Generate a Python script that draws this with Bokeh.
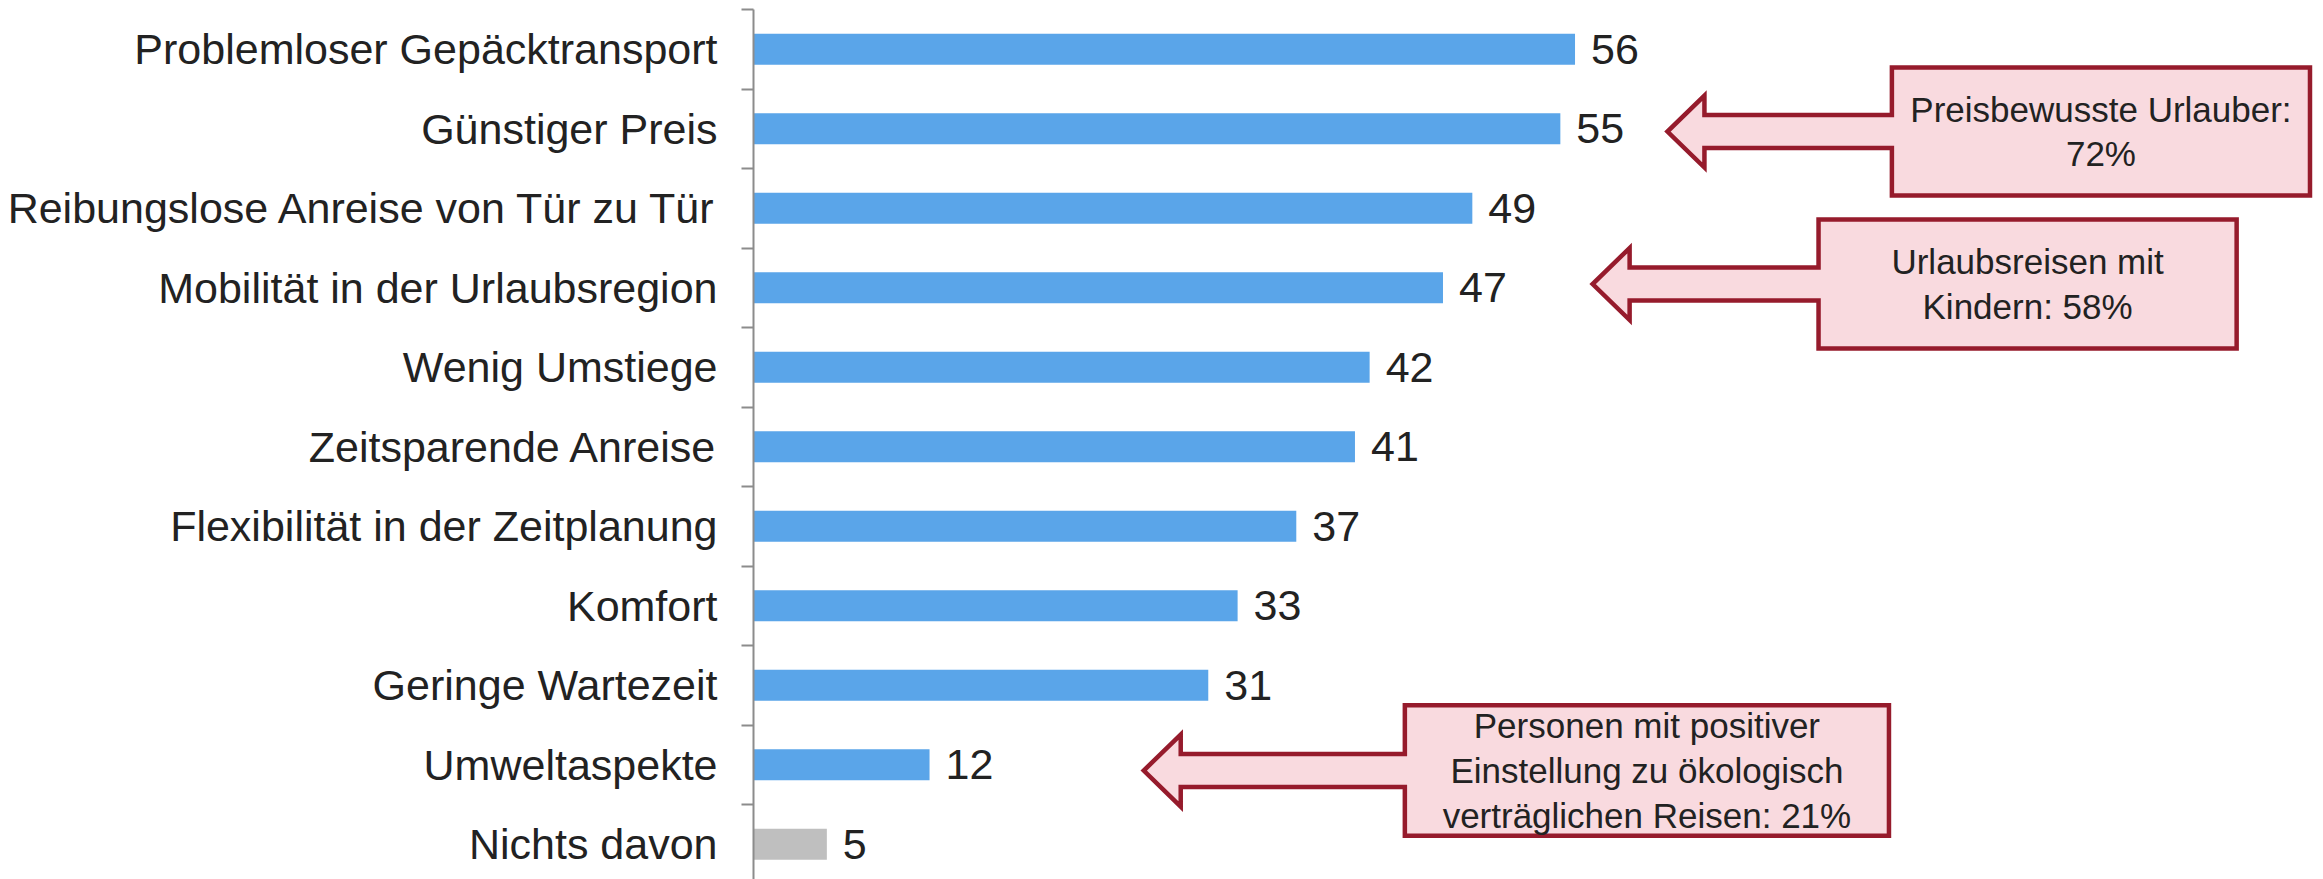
from bokeh.plotting import figure
from bokeh.models import Range1d, FixedTicker, ColumnDataSource
from bokeh.core.properties import value
from bokeh.embed import file_html
from bokeh.resources import INLINE

# ---------------- data ----------------
categories = [
    "Problemloser Gepäcktransport",
    "Günstiger Preis",
    "Reibungslose Anreise von Tür zu Tür",
    "Mobilität in der Urlaubsregion",
    "Wenig Umstiege",
    "Zeitsparende Anreise",
    "Flexibilität in der Zeitplanung",
    "Komfort",
    "Geringe Wartezeit",
    "Umweltaspekte",
    "Nichts davon",
]
values = [56, 55, 49, 47, 42, 41, 37, 33, 31, 12, 5]

callout_texts = [
    "Preisbewusste Urlauber:\n72%",
    "Urlaubsreisen mit\nKindern: 58%",
    "Personen mit positiver\nEinstellung zu ökologisch\nverträglichen Reisen: 21%",
]

# ---------------- layout / style ----------------
FONT = "Liberation Sans"
W, H = 2323, 879
LEFT = 753          # px position of the value axis
UNIT_X = 14.67      # px per percent point
UNIT_Y = 79.5       # px per category
TOP_PAD = 9         # px above first category
BLUE = "#5AA5E9"
GREY = "#BFBFBF"
AXIS = "#8C8C8C"
TXT = "#222222"
CALL_FILL = "#F9DADF"
CALL_LINE = "#961B2C"

n = len(categories)
ypos = list(range(n))
y_top = -0.5 - TOP_PAD / UNIT_Y
y_bottom = y_top + H / UNIT_Y
x_end = (W - LEFT) / UNIT_X

p = figure(width=W, height=H,
           x_range=Range1d(0, x_end), y_range=Range1d(y_bottom, y_top),
           x_axis_location=None, output_backend="svg", toolbar_location=None,
           min_border_left=LEFT, min_border_right=0, min_border_top=0, min_border_bottom=0)
p.outline_line_color = None
p.grid.visible = False
p.background_fill_color = "white"
p.border_fill_color = "white"

colors = [GREY if c == "Nichts davon" else BLUE for c in categories]
src = ColumnDataSource(dict(y=ypos, v=values, c=colors, lab=[str(v) for v in values]))
p.hbar(y="y", left=0, right="v", height=0.39, fill_color="c", line_color=None, source=src)
p.text(x="v", y="y", text="lab", x_offset=16, text_baseline="middle", text_align="left",
       text_font=value(FONT), text_font_size="43px", text_color=TXT, source=src)

ax = p.yaxis[0]
ax.ticker = FixedTicker(ticks=ypos, minor_ticks=[i - 0.5 for i in range(n + 1)])
ax.major_label_overrides = {i: c for i, c in enumerate(categories)}
ax.major_tick_out = 0
ax.major_tick_in = 0
ax.minor_tick_out = 12
ax.minor_tick_in = 0
ax.minor_tick_line_color = AXIS
ax.minor_tick_line_width = 2
ax.axis_line_color = AXIS
ax.axis_line_width = 2
ax.major_label_text_font = FONT
ax.major_label_text_font_size = "43px"
ax.major_label_text_color = TXT
ax.major_label_standoff = 24
ax.bounds = (-0.5, y_bottom)

# ---------------- callouts (arrow + box) ----------------
callout_layout = [
    dict(cy=1.035, tip=62.3, x0=77.6, x1=106.1, hh=0.805),
    dict(cy=2.953, tip=57.2, x0=72.6, x1=101.1, hh=0.81),
    dict(cy=9.073, tip=26.6, x0=44.4, x1=77.4, hh=0.82),
]
head_len = 37 / UNIT_X
head_half = 36 / UNIT_Y
shaft_half = 16.5 / UNIT_Y

for txt, L in zip(callout_texts, callout_layout):
    cy, tip, x0, x1, hh = L["cy"], L["tip"], L["x0"], L["x1"], L["hh"]
    hb = tip + head_len
    xs = [x0, x1, x1, x0, x0, hb, hb, tip, hb, hb, x0]
    ys = [cy - hh, cy - hh, cy + hh, cy + hh, cy + shaft_half, cy + shaft_half,
          cy + head_half, cy, cy - head_half, cy - shaft_half, cy - shaft_half]
    p.patch(xs, ys, fill_color=CALL_FILL, line_color=CALL_LINE, line_width=4.5,
            line_join="miter")
    p.text(x=[(x0 + x1) / 2], y=[cy], text=[txt], text_align="center", text_baseline="middle",
           text_font=value(FONT), text_font_size="35px", text_color=TXT, text_line_height=1.15)

open("out.html", "w").write(file_html(p, INLINE))
